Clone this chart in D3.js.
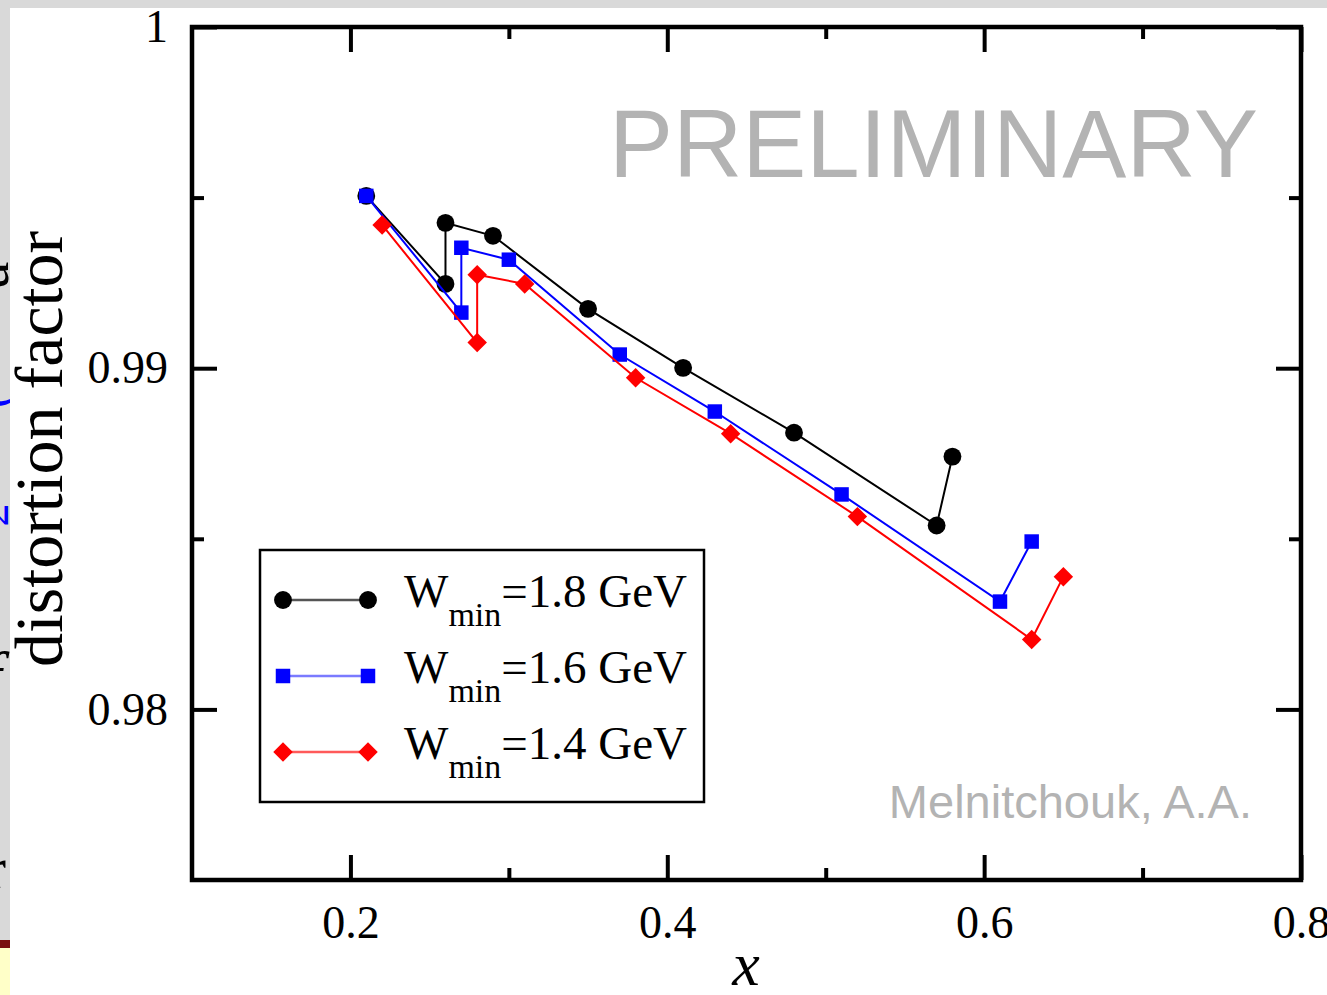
<!DOCTYPE html>
<html><head><meta charset="utf-8">
<script src="https://cdn.jsdelivr.net/npm/d3@7/dist/d3.min.js"></script>
<style>body{margin:0;background:#fff;}svg{display:block;}</style>
</head><body>
<script>
// ---- data ----
const seriesNames = ["1.8 GeV", "1.6 GeV", "1.4 GeV"];
const blackX = [0.21, 0.26, 0.26, 0.29, 0.35, 0.41, 0.48, 0.57, 0.58];
const blackY = [0.99505, 0.99247, 0.99426, 0.99388, 0.99174, 0.99001, 0.98811, 0.98539, 0.98741];
const blueX  = [0.21, 0.27, 0.27, 0.30, 0.37, 0.43, 0.51, 0.61, 0.63];
const blueY  = [0.99505, 0.99163, 0.99353, 0.99318, 0.99040, 0.98873, 0.98630, 0.98316, 0.98492];
const redX   = [0.22, 0.28, 0.28, 0.31, 0.38, 0.44, 0.52, 0.63, 0.65];
const redY   = [0.99420, 0.99075, 0.99274, 0.99247, 0.98972, 0.98808, 0.98565, 0.98205, 0.98389];
const xMajorTicks = [0.2, 0.4, 0.6, 0.8];
const xMinorTicks = [0.3, 0.5, 0.7];
const yMajorTicks = [0.98, 0.99, 1];
const yMinorTicks = [0.985, 0.995];
const xLabel = "x";
const yLabel = "distortion factor";
const watermark = "PRELIMINARY";
const credit = "Melnitchouk, A.A.";

// ---- layout ----
const W = 1327, H = 995;
const L = 192, R = 1301, T = 27, B = 880;
const svg = d3.select("body").append("svg").attr("width", W).attr("height", H);

// background strips (slide texture)
svg.append("rect").attr("x",0).attr("y",0).attr("width",W).attr("height",H).attr("fill","#fff");
svg.append("rect").attr("x",0).attr("y",0).attr("width",W).attr("height",8).attr("fill","#d9d9d9");
svg.append("rect").attr("x",0).attr("y",0).attr("width",10).attr("height",H).attr("fill","#d9d9d9");
svg.append("rect").attr("x",0).attr("y",940).attr("width",10).attr("height",8).attr("fill","#7a1010");
svg.append("rect").attr("x",0).attr("y",948).attr("width",10).attr("height",47).attr("fill","#ffffc8");
const clip = svg.append("defs").append("clipPath").attr("id","strip");
clip.append("rect").attr("x",0).attr("y",8).attr("width",10).attr("height",932);
const frag = svg.append("g").attr("clip-path","url(#strip)").style("font-family","'Liberation Serif',serif");
frag.append("text").attr("transform","translate(8,275) rotate(-90)").attr("font-size",60).attr("text-anchor","middle").attr("fill","#000").text("a");
frag.append("text").attr("transform","translate(8,400) rotate(-90)").attr("font-size",50).attr("text-anchor","middle").attr("fill","#0000ff").text("(");
frag.append("text").attr("transform","translate(8,515) rotate(-90)").attr("font-size",46).attr("text-anchor","middle").attr("fill","#0000ff").text("2");
frag.append("text").attr("x",-18).attr("y",700).attr("font-size",70).attr("font-style","italic").attr("fill","#000").text("f");
frag.append("text").attr("x",-14).attr("y",888).attr("font-size",60).attr("fill","#000").text("r");

const x = d3.scaleLinear().domain([0.1, 0.8]).range([L, R]);
const y = d3.scaleLinear().domain([0.975, 1.0]).range([B, T]);

// watermark + credit
svg.append("text").attr("x", 1258).attr("y", 177).attr("text-anchor","end")
  .style("font-family","'Liberation Sans',Arial,sans-serif").attr("font-size",96).attr("fill","#b3b3b3").text(watermark);
svg.append("text").attr("x", 1252).attr("y", 818).attr("text-anchor","end")
  .style("font-family","'Liberation Sans',Arial,sans-serif").attr("font-size",47).attr("fill","#b3b3b3").text(credit);

// axes
const fmt = d => String(d);
function styleAxis(g){
  g.select(".domain").remove();
  g.selectAll(".tick line").attr("stroke","#000").attr("stroke-width",4);
  g.selectAll(".tick text").style("font-family","'Liberation Serif','Times New Roman',serif").attr("font-size",46).attr("fill","#000");
}
svg.append("g").attr("transform",`translate(0,${B})`)
  .call(d3.axisBottom(x).tickValues(xMajorTicks).tickSize(-25).tickPadding(25).tickFormat(fmt)).call(styleAxis);
svg.append("g").attr("transform",`translate(0,${B})`)
  .call(d3.axisBottom(x).tickValues(xMinorTicks).tickSize(-12).tickFormat("")).call(styleAxis);
svg.append("g").attr("transform",`translate(0,${T})`)
  .call(d3.axisTop(x).tickValues(xMajorTicks).tickSize(-25).tickFormat("")).call(styleAxis);
svg.append("g").attr("transform",`translate(0,${T})`)
  .call(d3.axisTop(x).tickValues(xMinorTicks).tickSize(-12).tickFormat("")).call(styleAxis);
svg.append("g").attr("transform",`translate(${L},0)`)
  .call(d3.axisLeft(y).tickValues(yMajorTicks).tickSize(-25).tickPadding(24).tickFormat(fmt)).call(styleAxis);
svg.append("g").attr("transform",`translate(${L},0)`)
  .call(d3.axisLeft(y).tickValues(yMinorTicks).tickSize(-12).tickFormat("")).call(styleAxis);
svg.append("g").attr("transform",`translate(${R},0)`)
  .call(d3.axisRight(y).tickValues(yMajorTicks).tickSize(-25).tickFormat("")).call(styleAxis);
svg.append("g").attr("transform",`translate(${R},0)`)
  .call(d3.axisRight(y).tickValues(yMinorTicks).tickSize(-12).tickFormat("")).call(styleAxis);

// frame
svg.append("rect").attr("x",L).attr("y",T).attr("width",R-L).attr("height",B-T)
  .attr("fill","none").attr("stroke","#000").attr("stroke-width",4.5);

// axis labels
svg.append("text").attr("transform","translate(62,449) rotate(-90)").attr("text-anchor","middle")
  .style("font-family","'Liberation Serif','Times New Roman',serif").attr("font-size",68).attr("fill","#000").text(yLabel);
svg.append("text").attr("x",746).attr("y",985).attr("text-anchor","middle")
  .style("font-family","'Liberation Serif','Times New Roman',serif").attr("font-size",62).attr("font-style","italic").attr("fill","#000").text(xLabel);

// series
const series = [
  {xs: blackX, ys: blackY, color: "#000", legendLine: "#555", sym: d3.symbolCircle, size: 250, rot: 0},
  {xs: blueX,  ys: blueY,  color: "#0000ff", legendLine: "#7a7aff", sym: d3.symbolSquare, size: 210, rot: 0},
  {xs: redX,   ys: redY,   color: "#ff0000", legendLine: "#ff5a5a", sym: d3.symbolSquare, size: 190, rot: 45}
];
const line = d3.line().x(d => x(d[0])).y(d => y(d[1]));
series.forEach(s => {
  const pts = s.xs.map((v,i) => [v, s.ys[i]]);
  const g = svg.append("g");
  g.append("path").datum(pts).attr("d", line).attr("fill","none").attr("stroke", s.color).attr("stroke-width",2);
  g.selectAll("path.m").data(pts).enter().append("path").attr("class","m")
    .attr("d", d3.symbol().type(s.sym).size(s.size))
    .attr("transform", d => `translate(${x(d[0])},${y(d[1])}) rotate(${s.rot})`)
    .attr("fill", s.color);
});

// legend
svg.append("rect").attr("x",260).attr("y",550).attr("width",444).attr("height",252)
  .attr("fill","#fff").attr("stroke","#000").attr("stroke-width",2.5);
const rows = [600, 676, 752];
series.forEach((s,i) => {
  const ry = rows[i];
  svg.append("line").attr("x1",283).attr("x2",368).attr("y1",ry).attr("y2",ry)
    .attr("stroke", s.legendLine).attr("stroke-width",2.5);
  [283,368].forEach(px => {
    svg.append("path").attr("d", d3.symbol().type(s.sym).size(s.size))
      .attr("transform", `translate(${px},${ry}) rotate(${s.rot})`).attr("fill", s.color);
  });
  const t = svg.append("text").attr("x",404).attr("y",ry+7)
    .style("font-family","'Liberation Serif','Times New Roman',serif").attr("font-size",47).attr("fill","#000");
  t.append("tspan").text("W");
  t.append("tspan").attr("font-size",34).attr("dy",19).text("min");
  t.append("tspan").attr("dy",-19).text("=" + seriesNames[i]);
});
</script>
</body></html>
